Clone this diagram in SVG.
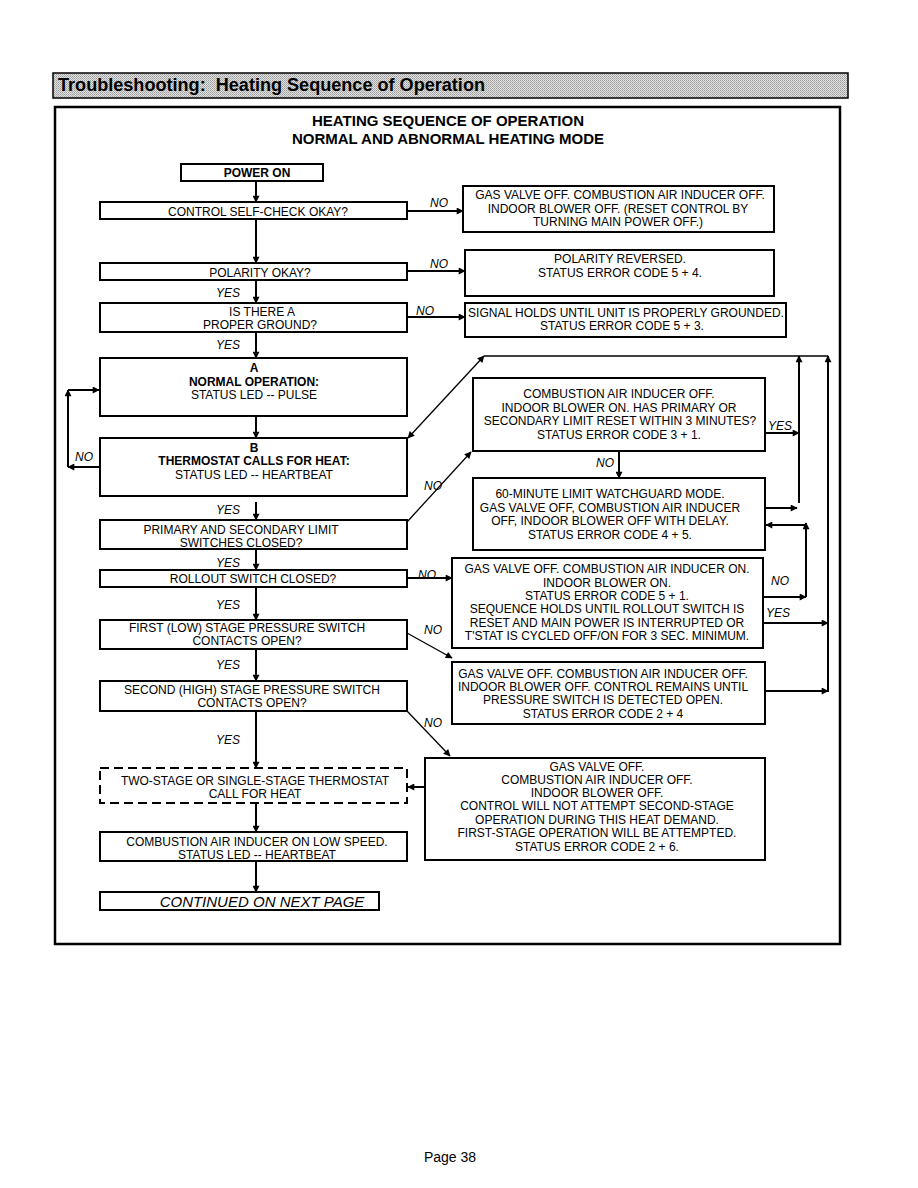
<svg xmlns="http://www.w3.org/2000/svg" width="918" height="1188" viewBox="0 0 918 1188">
<defs>
<marker id="ah" viewBox="0 0 10 10" refX="9" refY="5" markerWidth="9" markerHeight="7" markerUnits="userSpaceOnUse" orient="auto">
<path d="M0,0 L10,5 L0,10 z" fill="#000"/>
</marker>
<marker id="ahs" viewBox="0 0 10 10" refX="9" refY="5" markerWidth="9" markerHeight="7" markerUnits="userSpaceOnUse" orient="auto-start-reverse">
<path d="M0,0 L10,5 L0,10 z" fill="#000"/>
</marker>
<pattern id="dots" width="2" height="2" patternUnits="userSpaceOnUse">
<rect width="2" height="2" fill="#e2e2e2"/>
<rect width="1" height="1" fill="#9a9a9a"/>
<rect x="1" y="1" width="1" height="1" fill="#b0b0b0"/>
</pattern>
</defs>
<style>
text{font-family:"Liberation Sans",Arial,sans-serif;fill:#000}
.t{font-size:12px;text-anchor:middle}
.b{font-size:12px;text-anchor:middle;font-weight:bold}
.l{font-size:12px;font-style:italic}
.ttl{font-size:15px;text-anchor:middle;font-weight:bold}
.box{fill:#fff;stroke:#000;stroke-width:2}
.dash{fill:#fff;stroke:#000;stroke-width:2;stroke-dasharray:9,5}
.c{fill:none;stroke:#000;stroke-width:2}
.cs{fill:none;stroke:#000;stroke-width:1.3}
</style>
<rect width="918" height="1188" fill="#fff"/>
<g id="header">
<rect x="53" y="73" width="795" height="25" fill="url(#dots)" stroke="#000" stroke-width="1.5"/>
<text x="58" y="91" font-size="18" font-weight="bold" textLength="427" lengthAdjust="spacingAndGlyphs">Troubleshooting:&#160; Heating Sequence of Operation</text>
</g>
<rect x="55" y="107" width="785" height="837" fill="none" stroke="#000" stroke-width="2.5"/>
<g id="title">
<text class="ttl" x="448" y="126">HEATING SEQUENCE OF OPERATION</text>
<text class="ttl" x="448" y="144">NORMAL AND ABNORMAL HEATING MODE</text>
</g>

<g id="connectors">
<line class="c" x1="256" y1="181" x2="256" y2="202" marker-end="url(#ah)"/>
<line class="c" x1="256" y1="219" x2="256" y2="263" marker-end="url(#ah)"/>
<line class="c" x1="256" y1="280" x2="256" y2="303" marker-end="url(#ah)"/>
<line class="c" x1="256" y1="332" x2="256" y2="358" marker-end="url(#ah)"/>
<line class="c" x1="256" y1="416" x2="256" y2="438" marker-end="url(#ah)"/>
<line class="c" x1="256" y1="502" x2="256" y2="520" marker-end="url(#ah)"/>
<line class="c" x1="256" y1="549" x2="256" y2="570" marker-end="url(#ah)"/>
<line class="c" x1="256" y1="587" x2="256" y2="620" marker-end="url(#ah)"/>
<line class="c" x1="256" y1="649" x2="256" y2="681" marker-end="url(#ah)"/>
<line class="c" x1="256" y1="711" x2="256" y2="768" marker-end="url(#ah)"/>
<line class="c" x1="256" y1="803" x2="256" y2="832" marker-end="url(#ah)"/>
<line class="c" x1="256" y1="861" x2="256" y2="892" marker-end="url(#ah)"/>

<line class="c" x1="407" y1="211" x2="463" y2="211" marker-end="url(#ah)"/>
<line class="c" x1="407" y1="271" x2="465" y2="271" marker-end="url(#ah)"/>
<line class="c" x1="407" y1="317" x2="465" y2="317" marker-end="url(#ah)"/>
<line class="c" x1="407" y1="578" x2="452" y2="578" marker-end="url(#ah)"/>
<line class="cs" x1="407" y1="633" x2="452" y2="658" marker-end="url(#ah)"/>
<line class="cs" x1="407" y1="711" x2="450" y2="756" marker-end="url(#ah)"/>
<line class="c" x1="425" y1="787" x2="408" y2="787" marker-end="url(#ah)"/>

<line class="c" x1="100" y1="467" x2="68" y2="467" marker-end="url(#ah)"/>
<line class="c" x1="68" y1="467" x2="68" y2="390" marker-end="url(#ah)"/>
<line class="c" x1="68" y1="390" x2="99" y2="390" marker-end="url(#ah)"/>

<line class="cs" x1="407" y1="522" x2="471" y2="452" marker-end="url(#ah)"/>
<line class="cs" x1="408" y1="438" x2="484" y2="356" marker-start="url(#ahs)" marker-end="url(#ah)"/>
<line class="cs" x1="484" y1="356" x2="828" y2="356"/>

<line class="c" x1="765" y1="433" x2="799" y2="433" marker-end="url(#ah)"/>
<line class="c" x1="619" y1="451" x2="619" y2="478" marker-end="url(#ah)"/>
<line class="c" x1="765" y1="508" x2="797" y2="508" marker-end="url(#ah)"/>
<line class="c" x1="799" y1="503" x2="799" y2="356" marker-end="url(#ah)"/>
<line class="c" x1="828" y1="692" x2="828" y2="356" marker-end="url(#ah)"/>
<line class="c" x1="763" y1="597" x2="806" y2="597" marker-end="url(#ah)"/>
<line class="c" x1="806" y1="597" x2="806" y2="523" marker-end="url(#ah)"/>
<line class="c" x1="806" y1="525" x2="766" y2="525" marker-end="url(#ah)"/>
<line class="c" x1="763" y1="623" x2="828" y2="623" marker-end="url(#ah)"/>
<line class="c" x1="765" y1="691" x2="828" y2="691" marker-end="url(#ah)"/>

<text class="l" x="430" y="207">NO</text>
<text class="l" x="430" y="268">NO</text>
<text class="l" x="416" y="315">NO</text>
<text class="l" x="216" y="297">YES</text>
<text class="l" x="216" y="349">YES</text>
<text class="l" x="75" y="461">NO</text>
<text class="l" x="216" y="514">YES</text>
<text class="l" x="424" y="490">NO</text>
<text class="l" x="216" y="567">YES</text>
<text class="l" x="418" y="579">NO</text>
<text class="l" x="216" y="609">YES</text>
<text class="l" x="424" y="634">NO</text>
<text class="l" x="216" y="669">YES</text>
<text class="l" x="424" y="727">NO</text>
<text class="l" x="216" y="744">YES</text>
<text class="l" x="768" y="430">YES</text>
<text class="l" x="596" y="467">NO</text>
<text class="l" x="771" y="585">NO</text>
<text class="l" x="766" y="617">YES</text>
</g>

<g id="power-on">
<rect class="box" x="181" y="164" width="142" height="17"/>
<text class="b" x="257" y="177">POWER ON</text>
</g>
<g id="self-check">
<rect class="box" x="100" y="202" width="307" height="17"/>
<text class="t" x="258" y="216">CONTROL SELF-CHECK OKAY?</text>
</g>
<g id="self-check-fail">
<rect class="box" x="463" y="186" width="311" height="46"/>
<text class="t" x="620" y="199">GAS VALVE OFF. COMBUSTION AIR INDUCER OFF.</text>
<text class="t" x="618" y="213">INDOOR BLOWER OFF. (RESET CONTROL BY</text>
<text class="t" x="618" y="226">TURNING MAIN POWER OFF.)</text>
</g>
<g id="polarity">
<rect class="box" x="100" y="263" width="307" height="17"/>
<text class="t" x="260" y="277">POLARITY OKAY?</text>
</g>
<g id="polarity-fail">
<rect class="box" x="465" y="250" width="309" height="46"/>
<text class="t" x="620" y="263">POLARITY REVERSED.</text>
<text class="t" x="620" y="277">STATUS ERROR CODE 5 + 4.</text>
</g>
<g id="ground">
<rect class="box" x="100" y="303" width="307" height="29"/>
<text class="t" x="262" y="316">IS THERE A</text>
<text class="t" x="260" y="329">PROPER GROUND?</text>
</g>
<g id="ground-fail">
<rect class="box" x="465" y="303" width="321" height="34"/>
<text class="t" x="626" y="317">SIGNAL HOLDS UNTIL UNIT IS PROPERLY GROUNDED.</text>
<text class="t" x="622" y="330">STATUS ERROR CODE 5 + 3.</text>
</g>
<g id="normal-operation">
<rect class="box" x="100" y="358" width="307" height="58"/>
<text class="b" x="254" y="372">A</text>
<text class="b" x="254" y="386">NORMAL OPERATION:</text>
<text class="t" x="254" y="399">STATUS LED -- PULSE</text>
</g>
<g id="thermostat-calls">
<rect class="box" x="100" y="438" width="307" height="58"/>
<text class="b" x="254" y="452">B</text>
<text class="b" x="254" y="465">THERMOSTAT CALLS FOR HEAT:</text>
<text class="t" x="254" y="479">STATUS LED -- HEARTBEAT</text>
</g>
<g id="limit-switches">
<rect class="box" x="100" y="520" width="307" height="29"/>
<text class="t" x="241" y="534">PRIMARY AND SECONDARY LIMIT</text>
<text class="t" x="241" y="547">SWITCHES CLOSED?</text>
</g>
<g id="limit-open">
<rect class="box" x="473" y="378" width="292" height="73"/>
<text class="t" x="619" y="398">COMBUSTION AIR INDUCER OFF.</text>
<text class="t" x="619" y="412">INDOOR BLOWER ON. HAS PRIMARY OR</text>
<text class="t" x="620" y="425">SECONDARY LIMIT RESET WITHIN 3 MINUTES?</text>
<text class="t" x="619" y="439">STATUS ERROR CODE 3 + 1.</text>
</g>
<g id="watchguard">
<rect class="box" x="473" y="478" width="292" height="72"/>
<text class="t" x="610" y="498">60-MINUTE LIMIT WATCHGUARD MODE.</text>
<text class="t" x="610" y="512">GAS VALVE OFF, COMBUSTION AIR INDUCER</text>
<text class="t" x="610" y="525">OFF, INDOOR BLOWER OFF WITH DELAY.</text>
<text class="t" x="610" y="539">STATUS ERROR CODE 4 + 5.</text>
</g>
<g id="rollout">
<rect class="box" x="100" y="570" width="307" height="17"/>
<text class="t" x="253" y="583">ROLLOUT SWITCH CLOSED?</text>
</g>
<g id="rollout-open">
<rect class="box" x="452" y="558" width="311" height="90"/>
<text class="t" x="607" y="573">GAS VALVE OFF. COMBUSTION AIR INDUCER ON.</text>
<text class="t" x="607" y="587">INDOOR BLOWER ON.</text>
<text class="t" x="607" y="600">STATUS ERROR CODE 5 + 1.</text>
<text class="t" x="607" y="613">SEQUENCE HOLDS UNTIL ROLLOUT SWITCH IS</text>
<text class="t" x="607" y="627">RESET AND MAIN POWER IS INTERRUPTED OR</text>
<text class="t" x="607" y="640">T'STAT IS CYCLED OFF/ON FOR 3 SEC. MINIMUM.</text>
</g>
<g id="low-pressure">
<rect class="box" x="100" y="620" width="307" height="29"/>
<text class="t" x="247" y="632">FIRST (LOW) STAGE PRESSURE SWITCH</text>
<text class="t" x="247" y="645">CONTACTS OPEN?</text>
</g>
<g id="low-pressure-closed">
<rect class="box" x="452" y="662" width="313" height="62"/>
<text class="t" x="603" y="678">GAS VALVE OFF. COMBUSTION AIR INDUCER OFF.</text>
<text class="t" x="603" y="691">INDOOR BLOWER OFF. CONTROL REMAINS UNTIL</text>
<text class="t" x="603" y="704">PRESSURE SWITCH IS DETECTED OPEN.</text>
<text class="t" x="603" y="718">STATUS ERROR CODE 2 + 4</text>
</g>
<g id="high-pressure">
<rect class="box" x="100" y="681" width="307" height="30"/>
<text class="t" x="252" y="694">SECOND (HIGH) STAGE PRESSURE SWITCH</text>
<text class="t" x="252" y="707">CONTACTS OPEN?</text>
</g>
<g id="high-pressure-closed">
<rect class="box" x="425" y="758" width="340" height="102"/>
<text class="t" x="597" y="771">GAS VALVE OFF.</text>
<text class="t" x="597" y="784">COMBUSTION AIR INDUCER OFF.</text>
<text class="t" x="597" y="797">INDOOR BLOWER OFF.</text>
<text class="t" x="597" y="810">CONTROL WILL NOT ATTEMPT SECOND-STAGE</text>
<text class="t" x="597" y="824">OPERATION DURING THIS HEAT DEMAND.</text>
<text class="t" x="597" y="837">FIRST-STAGE OPERATION WILL BE ATTEMPTED.</text>
<text class="t" x="597" y="851">STATUS ERROR CODE 2 + 6.</text>
</g>
<g id="thermostat-call">
<rect class="dash" x="100" y="768" width="307" height="35"/>
<text class="t" x="255" y="785">TWO-STAGE OR SINGLE-STAGE THERMOSTAT</text>
<text class="t" x="255" y="798">CALL FOR HEAT</text>
</g>
<g id="low-speed">
<rect class="box" x="100" y="832" width="307" height="29"/>
<text class="t" x="257" y="846">COMBUSTION AIR INDUCER ON LOW SPEED.</text>
<text class="t" x="257" y="859">STATUS LED -- HEARTBEAT</text>
</g>
<g id="continued">
<rect class="box" x="100" y="892" width="279" height="18"/>
<text class="t" x="262" y="907" style="font-size:15px;font-style:italic">CONTINUED ON NEXT PAGE</text>
</g>
<text x="450" y="1162" font-size="14" text-anchor="middle">Page 38</text>
</svg>
